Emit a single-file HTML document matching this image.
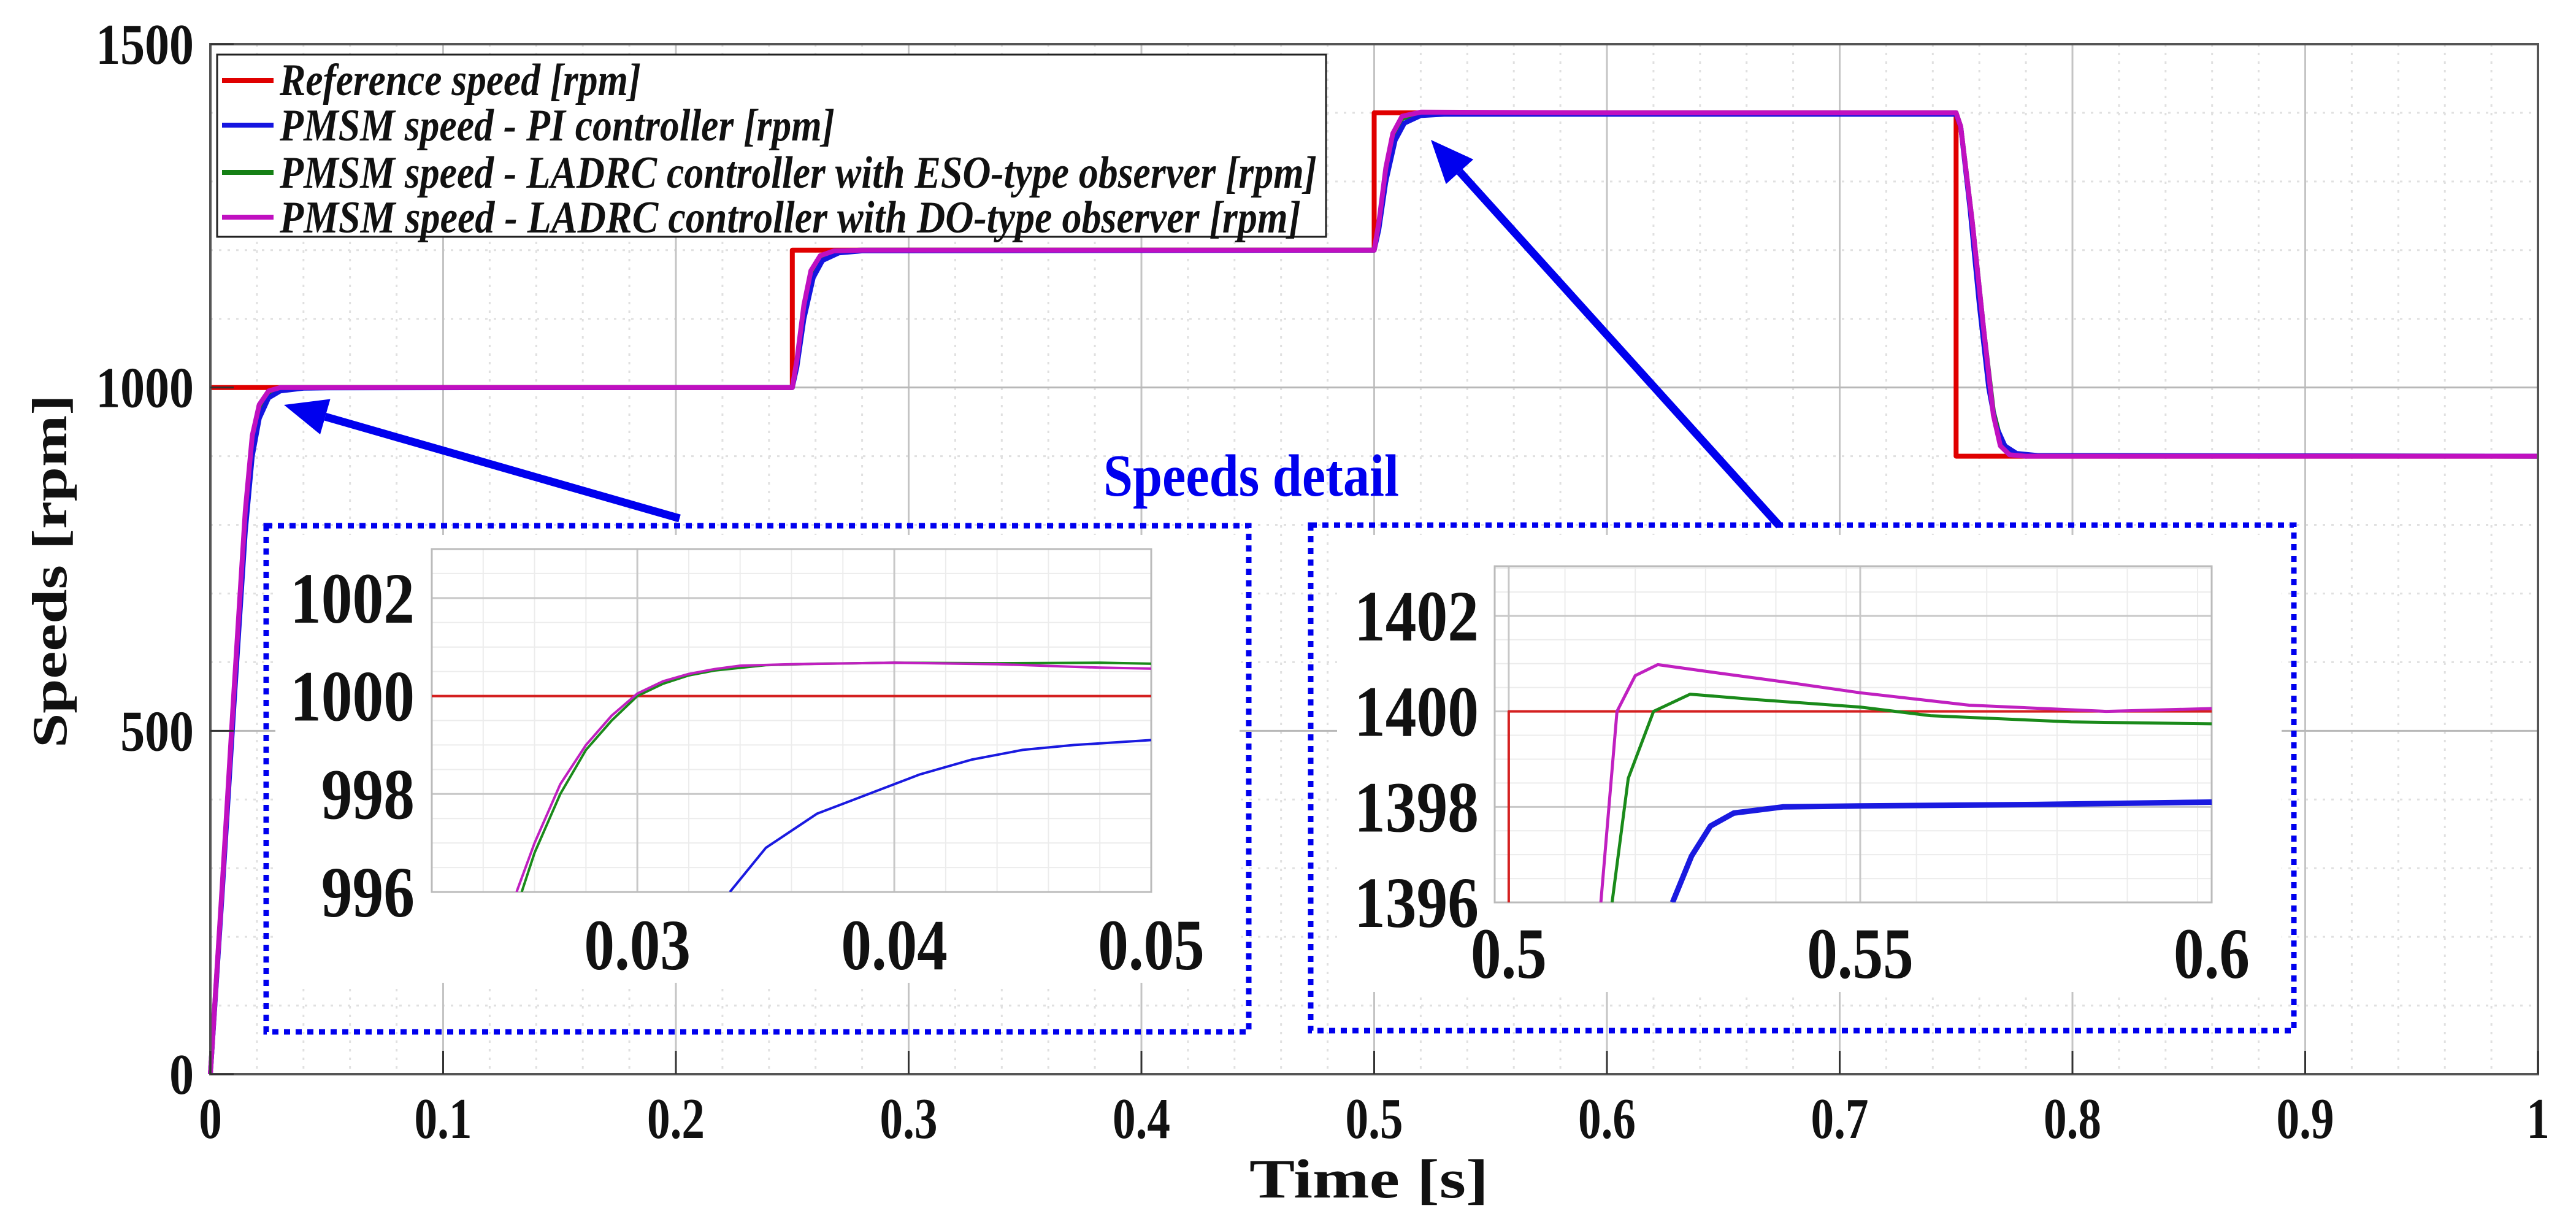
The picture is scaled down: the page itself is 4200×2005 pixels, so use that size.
<!DOCTYPE html>
<html><head><meta charset="utf-8">
<style>
html,body{margin:0;padding:0;background:#fff;}
svg{display:block;font-family:"Liberation Serif",serif;}
</style></head>
<body>
<svg id="chart" xmlns="http://www.w3.org/2000/svg" width="4200" height="2005" viewBox="0 0 4200 2005">
<rect width="4200" height="2005" fill="#fff"/>
<g id="main-grid"></g>
<g id="main-series"></g>
<g id="main-axes"></g>
<g id="legend">
  <rect x="354" y="89" width="1808" height="297" fill="#fff" stroke="#222" stroke-width="3"/>
  <line x1="362" y1="131" x2="446" y2="131" stroke="#e00000" stroke-width="8"/>
  <line x1="362" y1="204" x2="446" y2="204" stroke="#1515e0" stroke-width="8"/>
  <line x1="362" y1="281" x2="446" y2="281" stroke="#158015" stroke-width="8"/>
  <line x1="362" y1="354" x2="446" y2="354" stroke="#c010c0" stroke-width="8"/>
  <g font-size="74" font-weight="bold" font-style="italic" fill="#111">
    <text x="456" y="155" textLength="589" lengthAdjust="spacingAndGlyphs">Reference speed [rpm]</text>
    <text x="456" y="229" textLength="905" lengthAdjust="spacingAndGlyphs">PMSM speed - PI controller [rpm]</text>
    <text x="456" y="306" textLength="1691" lengthAdjust="spacingAndGlyphs">PMSM speed - LADRC controller with ESO-type observer [rpm]</text>
    <text x="456" y="379" textLength="1665" lengthAdjust="spacingAndGlyphs">PMSM speed - LADRC controller with DO-type observer [rpm]</text>
  </g>
</g>
<text x="1799" y="808" font-size="98" font-weight="bold" fill="#0000ee" textLength="482" lengthAdjust="spacingAndGlyphs">Speeds detail</text>
<g id="arrows"></g>
<g id="inset1"></g>
<g id="inset2"></g>
<text x="2232" y="1952" font-size="90" font-weight="bold" text-anchor="middle" fill="#111" textLength="390" lengthAdjust="spacingAndGlyphs">Time [s]</text>
<text transform="translate(108,931) rotate(-90)" font-size="80" font-weight="bold" text-anchor="middle" fill="#111" textLength="576" lengthAdjust="spacingAndGlyphs">Speeds [rpm]</text>
</svg>
<script>
// ---------- data ----------
const xTicks = [0,0.1,0.2,0.3,0.4,0.5,0.6,0.7,0.8,0.9,1];
const xTickLabels = ["0","0.1","0.2","0.3","0.4","0.5","0.6","0.7","0.8","0.9","1"];
const yTicks = [0,500,1000,1500];
const yTickLabels = ["0","500","1000","1500"];

const refT = [0,0.25,0.25,0.5,0.5,0.75,0.75,1];
const refV = [1000,1000,1200,1200,1400,1400,900,900];

const piT = [0,0.005,0.010,0.015,0.018,0.021,0.025,0.03,0.04,0.05,0.25,0.252,0.255,0.259,0.263,0.27,0.28,0.5,0.502,0.505,0.509,0.513,0.52,0.53,0.75,0.752,0.756,0.760,0.764,0.767,0.771,0.776,0.785,1];
const piV = [0,260,530,790,900,955,985,995,999,999.5,1000,1030,1100,1160,1185,1196,1199,1200,1230,1300,1360,1385,1396,1398,1398,1380,1260,1120,1000,945,915,904,901,900];

const esoT = [0,0.005,0.010,0.015,0.018,0.021,0.025,0.03,0.25,0.252,0.255,0.258,0.262,0.268,0.28,0.5,0.502,0.505,0.508,0.512,0.52,0.75,0.752,0.757,0.762,0.766,0.769,0.773,0.78,1];
const esoV = [0,265,545,815,925,970,993,1000,1000,1035,1115,1165,1190,1199,1200,1200,1235,1315,1365,1392,1400,1400,1380,1240,1080,965,925,906,901,900];

const doT = [0,0.005,0.010,0.015,0.018,0.021,0.025,0.03,0.25,0.252,0.255,0.258,0.262,0.268,0.28,0.5,0.502,0.505,0.508,0.512,0.52,0.6,0.75,0.752,0.757,0.762,0.766,0.769,0.773,0.78,1];
const doV = [0,270,550,820,930,975,995,1000,1000,1040,1120,1170,1192,1199,1200,1200,1240,1320,1370,1395,1401,1400,1400,1380,1240,1080,960,915,902,900,900];

// inset 1 (start detail)
const in1XTicks = [0.03,0.04,0.05];
const in1XLabels = ["0.03","0.04","0.05"];
const in1YTicks = [996,998,1000,1002];
const in1YLabels = ["996","998","1000","1002"];
const in1RefT = [0.022,0.05];
const in1RefV = [1000,1000];
const in1DoT = [0.0253,0.026,0.027,0.028,0.029,0.030,0.031,0.032,0.033,0.034,0.036,0.04,0.044,0.048,0.05];
const in1DoV = [996,997,998.2,999.0,999.6,1000.05,1000.3,1000.45,1000.55,1000.62,1000.65,1000.68,1000.65,1000.58,1000.56];
const in1EsoT = [0.0255,0.026,0.027,0.028,0.029,0.030,0.031,0.032,0.033,0.035,0.037,0.04,0.044,0.048,0.05];
const in1EsoV = [996,996.8,998.0,998.9,999.5,1000.0,1000.25,1000.42,1000.52,1000.63,1000.66,1000.68,1000.67,1000.68,1000.66];
const in1PiT = [0.0336,0.035,0.037,0.039,0.041,0.043,0.045,0.047,0.05];
const in1PiV = [996,996.9,997.6,998.0,998.4,998.7,998.9,999.0,999.1];

// inset 2 (0.5 s step detail)
const in2XTicks = [0.5,0.55,0.6];
const in2XLabels = ["0.5","0.55","0.6"];
const in2YTicks = [1396,1398,1400,1402];
const in2YLabels = ["1396","1398","1400","1402"];
const in2RefT = [0.5,0.5,0.6];
const in2RefV = [1396,1400,1400];
const in2DoT = [0.5131,0.5154,0.518,0.5212,0.53,0.54,0.55,0.5655,0.585,0.6];
const in2DoV = [1396,1400,1400.75,1400.98,1400.8,1400.6,1400.39,1400.13,1400.0,1400.06];
const in2EsoT = [0.5147,0.517,0.5206,0.5258,0.535,0.55,0.56,0.58,0.6];
const in2EsoV = [1396,1398.6,1400,1400.36,1400.25,1400.09,1399.91,1399.78,1399.74];
const in2PiT = [0.5233,0.526,0.5287,0.532,0.539,0.55,0.575,0.6];
const in2PiV = [1396,1396.97,1397.6,1397.87,1398.0,1398.02,1398.05,1398.1];

// ---------- helpers ----------
const NS = "http://www.w3.org/2000/svg";
function mk(parent, tag, attrs, txt){
  const e = document.createElementNS(NS, tag);
  for (const k in attrs) e.setAttribute(k, attrs[k]);
  if (txt !== undefined) e.textContent = txt;
  parent.appendChild(e);
  return e;
}
function condense(el, k){
  const w = el.getComputedTextLength();
  if (w > 0){ el.setAttribute('textLength', (w*k).toFixed(1)); el.setAttribute('lengthAdjust','spacingAndGlyphs'); }
}
function pts(ts, vs, sx, sy){ return ts.map((t,i)=>sx(t).toFixed(1)+","+sy(vs[i]).toFixed(1)).join(" "); }

// ---------- main axes ----------
const L=343, R=4138, T=72, B=1751;
const X = t => L + t*(R-L);
const Y = v => B - v/1500*(B-T);

const grid = document.getElementById('main-grid');
for (let t=0.02; t<1; t+=0.02){
  if (Math.abs(t*10-Math.round(t*10))<1e-6) continue;
  const g = mk(grid,'line',{x1:X(t),x2:X(t),y1:T,y2:B,stroke:'#e0e0e0','stroke-width':3,'stroke-dasharray':'4 10'});
  
  
}
for (let v=100; v<1500; v+=100){
  if (v%500===0) continue;
  const g = mk(grid,'line',{x1:L,x2:R,y1:Y(v),y2:Y(v),stroke:'#e0e0e0','stroke-width':3,'stroke-dasharray':'4 10'});
  
  
}
xTicks.forEach(t=>{
  const g = mk(grid,'line',{x1:X(t),x2:X(t),y1:T,y2:B,stroke:'#c4c4c4','stroke-width':3});
  
  
});
yTicks.forEach(v=>{
  const g = mk(grid,'line',{x1:L,x2:R,y1:Y(v),y2:Y(v),stroke:'#b8b8b8','stroke-width':3});
  
  
});

const ax = document.getElementById('main-axes');
const frame = mk(ax,'rect',{x:L,y:T,width:R-L,height:B-T,fill:'none',stroke:'#555','stroke-width':4});


xTicks.forEach((t,i)=>{
  const tk = mk(ax,'line',{x1:X(t),x2:X(t),y1:B,y2:B-38,stroke:'#333','stroke-width':3});
  
  
  const lb = mk(ax,'text',{x:X(t),y:1855,'font-size':94,'font-weight':'bold','text-anchor':'middle',fill:'#111'}, xTickLabels[i]);
  
  
  condense(lb,0.8);
});
yTicks.forEach((v,i)=>{
  const tk = mk(ax,'line',{x1:L,x2:L+38,y1:Y(v),y2:Y(v),stroke:'#333','stroke-width':3});
  
  
  const lb = mk(ax,'text',{x:316,y:Y(v)+32,'font-size':94,'font-weight':'bold','text-anchor':'end',fill:'#111'}, yTickLabels[i]);
  
  
  condense(lb,0.85);
});

const ser = document.getElementById('main-series');
[[refT,refV,'#e00000','series-reference'],[esoT,esoV,'#158015','series-eso'],[piT,piV,'#1515e0','series-pi'],[doT,doV,'#c010c0','series-do']].forEach(s=>{
  const p = mk(ser,'polyline',{points:pts(s[0],s[1],X,Y),fill:'none',stroke:s[2],'stroke-width':8,'stroke-linejoin':'round'});
  
  
});

// ---------- arrows ----------
const arrG = document.getElementById('arrows');
function arrow(x1,y1,x2,y2,name){
  const dx=x2-x1, dy=y2-y1, len=Math.hypot(dx,dy), ux=dx/len, uy=dy/len;
  const hl=70, hw=30;
  const bx=x2-ux*hl, by=y2-uy*hl;
  const l = mk(arrG,'line',{x1:x1,y1:y1,x2:bx,y2:by,stroke:'#0000ee','stroke-width':13});
  
  
  const h = mk(arrG,'polygon',{points:`${x2},${y2} ${bx-uy*hw},${by+ux*hw} ${bx+uy*hw},${by-ux*hw}`,fill:'#0000ee'});
  
  
}
arrow(1108,845,463,660,'arrow-to-start');
arrow(2901,857,2333,228,'arrow-to-step');

// ---------- insets ----------
function inset(gid, box, white, pl, xr, yr, xT, xL, yT, yL, ylabX, xlabY, series, minorX, minorY){
  const g = document.getElementById(gid);
  const wb = mk(g,'rect',{x:white[0],y:white[1],width:white[2],height:white[3],fill:'#fff'});
  
  
  const bx = mk(g,'rect',{x:box[0],y:box[1],width:box[2],height:box[3],fill:'none',stroke:'#0000ee','stroke-width':9,'stroke-dasharray':'10 9'});
  
  
  const sx = t => pl[0] + (t-xr[0])/(xr[1]-xr[0])*(pl[2]-pl[0]);
  const sy = v => pl[3] - (v-yr[0])/(yr[1]-yr[0])*(pl[3]-pl[1]);
  for (let t=xr[0]; t<=xr[1]+1e-9; t+=minorX){
    const m = mk(g,'line',{x1:sx(t),x2:sx(t),y1:pl[1],y2:pl[3],stroke:'#ececec','stroke-width':2});
    
    
  }
  for (let v=yr[0]; v<=yr[1]+1e-9; v+=minorY){
    const m = mk(g,'line',{x1:pl[0],x2:pl[2],y1:sy(v),y2:sy(v),stroke:'#ececec','stroke-width':2});
    
    
  }
  xT.forEach((t,i)=>{
    const m = mk(g,'line',{x1:sx(t),x2:sx(t),y1:pl[1],y2:pl[3],stroke:'#c8c8c8','stroke-width':3});
    
    
    const lb = mk(g,'text',{x:sx(t),y:xlabY,'font-size':118,'font-weight':'bold','text-anchor':'middle',fill:'#111'}, xL[i]);
    
    
    condense(lb,0.84);
  });
  yT.forEach((v,i)=>{
    const m = mk(g,'line',{x1:pl[0],x2:pl[2],y1:sy(v),y2:sy(v),stroke:'#c8c8c8','stroke-width':3});
    
    
    const lb = mk(g,'text',{x:ylabX,y:sy(v)+40,'font-size':118,'font-weight':'bold','text-anchor':'end',fill:'#111'}, yL[i]);
    
    
    condense(lb,0.86);
  });
  const fr = mk(g,'rect',{x:pl[0],y:pl[1],width:pl[2]-pl[0],height:pl[3]-pl[1],fill:'none',stroke:'#bbb','stroke-width':3});
  
  
  const cid = gid+'-clip';
  const cp = mk(g,'clipPath',{id:cid});
  mk(cp,'rect',{x:pl[0],y:pl[1],width:pl[2]-pl[0],height:pl[3]-pl[1]});
  series.forEach(s=>{
    const p = mk(g,'polyline',{points:pts(s[0],s[1],sx,sy),fill:'none',stroke:s[2],'stroke-width':s[3],'stroke-linejoin':'round','clip-path':`url(#${cid})`});
    
    
  });
}
inset('inset1',[434,857,1602,825],[449,872,1572,730],[704,895,1877,1454],[0.022,0.05],[996,1003],
  in1XTicks,in1XLabels,in1YTicks,in1YLabels,676,1580,
  [[in1RefT,in1RefV,'#d42020',4,'inset1-reference'],[in1PiT,in1PiV,'#1a1ae0',4,'inset1-pi'],[in1EsoT,in1EsoV,'#1a8a1a',4,'inset1-eso'],[in1DoT,in1DoV,'#c020c0',4,'inset1-do']],
  0.002,0.5);
inset('inset2',[2137,856,1603,824],[2180,872,1540,745],[2437,923,3606,1471],[0.498,0.6],[1396,1403.04],
  in2XTicks,in2XLabels,in2YTicks,in2YLabels,2411,1594,
  [[in2RefT,in2RefV,'#d42020',4,'inset2-reference'],[in2PiT,in2PiV,'#1a1ae0',9,'inset2-pi'],[in2EsoT,in2EsoV,'#1a8a1a',5,'inset2-eso'],[in2DoT,in2DoV,'#c020c0',5,'inset2-do']],
  0.01,0.5);
</script>
</body></html>
